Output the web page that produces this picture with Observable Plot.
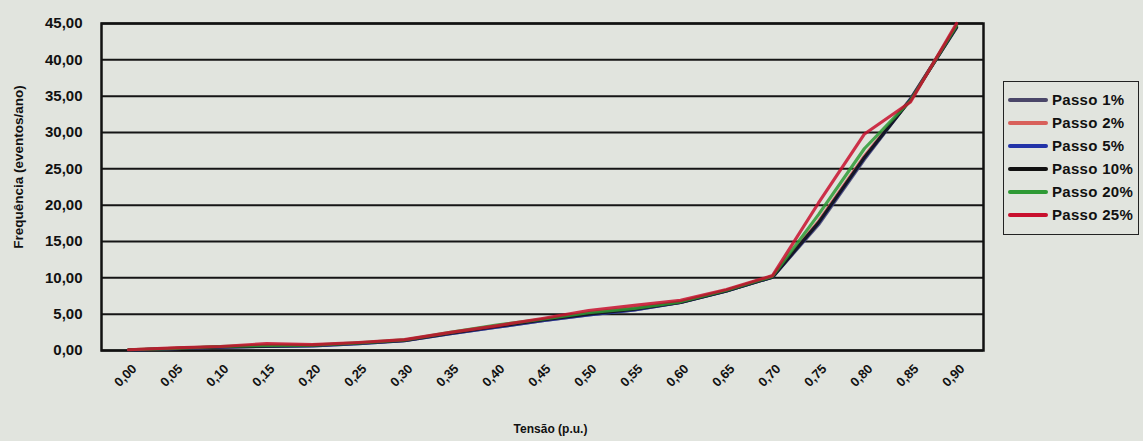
<!DOCTYPE html>
<html>
<head>
<meta charset="utf-8">
<script src="https://cdn.jsdelivr.net/npm/d3@7"></script>
<script src="https://cdn.jsdelivr.net/npm/@observablehq/plot@0.6"></script>
<style>
  html, body { margin: 0; padding: 0; background: #e1e4de; }
  body { width: 1143px; height: 441px; position: relative; overflow: hidden; font-family: "Liberation Sans", Arial, sans-serif; }
  #chart { position: absolute; left: 0; top: 0; }
  #ytitle { position: absolute; left: 18px; top: 167px; transform: translate(-50%, -50%) rotate(-90deg); white-space: nowrap; font-weight: bold; font-size: 13.5px; color: #111; }
  #legend { position: absolute; left: 1003px; top: 81px; width: 136px; height: 154px; border: 1px solid #222; box-sizing: border-box; padding-top: 6px; }
  .row { height: 23px; display: flex; align-items: center; font-weight: bold; font-size: 15px; letter-spacing: 0.3px; color: #111; }
  .sw { width: 40px; height: 4px; margin-left: 4px; margin-right: 4px; border-radius: 2px; }
</style>
</head>
<body>
<div id="chart"></div>
<div id="ytitle">Frequência (eventos/ano)</div>
<div id="legend"></div>
<script>
const tensao = ["0,00","0,05","0,10","0,15","0,20","0,25","0,30","0,35","0,40","0,45","0,50","0,55","0,60","0,65","0,70","0,75","0,80","0,85","0,90"];
const yTicks = [0,5,10,15,20,25,30,35,40,45];
const seriesNames = ["Passo 1%","Passo 2%","Passo 5%","Passo 10%","Passo 20%","Passo 25%"];
const seriesColors = ["#4a4668","#d8605a","#2233a8","#111111","#2e9a35","#c8102e"];

const passo1  = [0.05,0.25,0.45,0.55,0.65,0.95,1.35,2.3,3.2,4.1,4.9,5.6,6.6,8.2,10.1,17.3,26.3,34.6,44.4];
const passo2  = [0.10,0.30,0.50,0.70,0.70,1.00,1.40,2.4,3.3,4.2,5.1,5.8,6.7,8.3,10.2,17.8,26.8,34.6,44.6];
const passo5  = [0.05,0.25,0.45,0.60,0.65,0.95,1.35,2.3,3.2,4.1,4.9,5.6,6.6,8.2,10.1,17.5,26.5,34.6,44.5];
const passo10 = [0.05,0.25,0.50,0.60,0.70,1.00,1.40,2.4,3.3,4.2,5.0,5.7,6.6,8.2,10.1,17.6,26.6,34.5,44.5];
const passo20 = [0.10,0.30,0.55,0.70,0.75,1.05,1.45,2.5,3.5,4.3,5.2,5.8,6.7,8.3,10.2,18.7,27.8,34.4,44.7];
const passo25 = [0.10,0.35,0.55,0.95,0.80,1.10,1.50,2.5,3.4,4.4,5.5,6.2,6.9,8.4,10.3,20.3,29.8,34.2,45.0];
const seriesValues = [passo1, passo2, passo5, passo10, passo20, passo25];

const data = [];
seriesNames.forEach((name, i) => {
  tensao.forEach((t, j) => data.push({serie: name, x: t, y: seriesValues[i][j]}));
});

const fmt = d => d.toFixed(2).replace(".", ",");

const chart = Plot.plot({
  width: 1143,
  height: 441,
  marginLeft: 101,
  marginRight: 160,
  marginTop: 23,
  marginBottom: 91,
  style: { background: "transparent", fontFamily: "'Liberation Sans', Arial, sans-serif", color: "#111" },
  x: { type: "point", domain: tensao, padding: 0.5 },
  y: { domain: [0, 45] },
  color: { domain: seriesNames, range: seriesColors },
  marks: [
    Plot.ruleY(yTicks, { stroke: "#151515", strokeWidth: 2 }),
    Plot.frame({ stroke: "#111", strokeWidth: 2.5 }),
    Plot.axisY({ ticks: yTicks, tickFormat: fmt, tickSize: 0, tickPadding: 19, fontSize: 15, fontWeight: "bold", label: null }),
    Plot.axisX({ ticks: [], label: null, tickSize: 0 }),
    Plot.text(tensao, { x: d => d, frameAnchor: "bottom", dy: 28, rotate: -45, textAnchor: "middle", fontSize: 13, fontWeight: "bold", fill: "#111" }),
    Plot.line(data, { x: "x", y: "y", z: "serie", stroke: "serie", strokeWidth: 3.2, strokeOpacity: 0.85, strokeLinejoin: "round" }),
    Plot.text(["Tensão (p.u.)"], { frameAnchor: "bottom", dx: 8, dy: 82, fontSize: 12, fontWeight: "bold", fill: "#111" })
  ]
});
document.getElementById("chart").appendChild(chart);

const legend = document.getElementById("legend");
seriesNames.forEach((name, i) => {
  const row = document.createElement("div");
  row.className = "row";
  const sw = document.createElement("div");
  sw.className = "sw";
  sw.style.background = seriesColors[i];
  const label = document.createElement("span");
  label.textContent = name;
  row.appendChild(sw);
  row.appendChild(label);
  legend.appendChild(row);
});
</script>
</body>
</html>
